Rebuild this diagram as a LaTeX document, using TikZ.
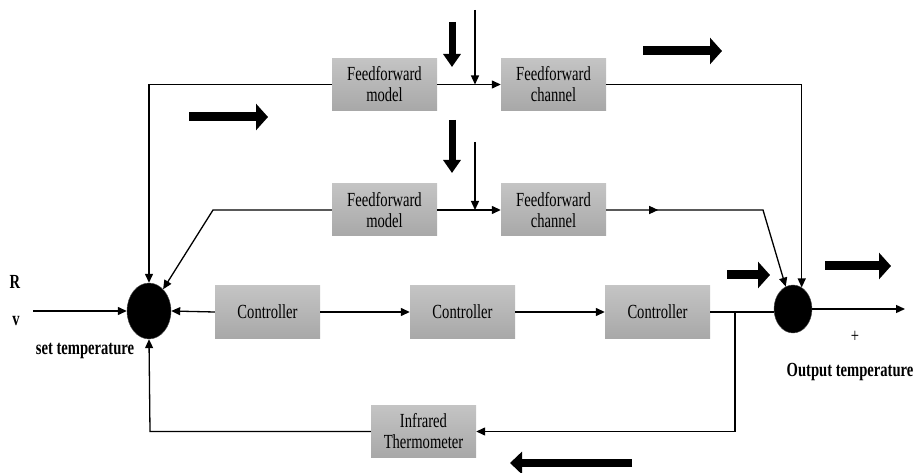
\documentclass[tikz,border=0pt]{standalone}
\usepackage{fontspec}
\setmainfont{Liberation Serif}[FakeStretch=0.73]
\usetikzlibrary{arrows.meta,shapes.geometric,decorations.markings}
\definecolor{boxtop}{HTML}{C4C4C4}
\definecolor{boxbot}{HTML}{A8A8A8}
\begin{document}
\begin{tikzpicture}[x=1pt,y=-1pt,
  every node/.style={font=\fontsize{20}{21}\selectfont},
  blk/.style={rectangle, top color=boxtop, bottom color=boxbot, draw=none,
    minimum width=105pt, minimum height=52pt, inner sep=0pt, align=center},
  sumnode/.style={ellipse, fill=black, draw=black!70, inner sep=0pt},
  conn/.style={line width=1.3pt},
  tip/.style={conn, -{Triangle[length=9pt,width=8pt]}},
  bigarrow/.style={line width=9pt, -{Triangle[length=12pt,width=26pt]}},
  downarrow/.style={line width=7pt, -{Triangle[length=13pt,width=17pt]}},
  lbl/.style={font=\fontsize{20}{21}\selectfont\bfseries, inner sep=0pt}
]
\useasboundingbox (0,0) rectangle (916,473);

% nodes
\node[sumnode, minimum width=44pt, minimum height=56pt] (S1) at (149,311) {};
\node[sumnode, minimum width=38pt, minimum height=48pt] (S2) at (793,309) {};
\node[blk] (c1) at (267.5,312) {Controller};
\node[blk] (c2) at (462.5,312) {Controller};
\node[blk] (c3) at (657.5,312) {Controller};
\node[blk] (fm1) at (384.5,84.5) {Feedforward\\model};
\node[blk] (fc1) at (553.5,84.5) {Feedforward\\channel};
\node[blk] (fm2) at (384.5,210) {Feedforward\\model};
\node[blk] (fc2) at (553.5,210) {Feedforward\\channel};
\node[blk] (ir) at (423.5,431.5) {Infrared\\Thermometer};

\coordinate (in) at (33,311);
\coordinate (out) at (905,309);
\coordinate (d1) at (475,10);
\coordinate (d2) at (475,142);
\coordinate (br) at (735,312);
\coordinate (fbl) at (150,431.5);
\coordinate (k2) at (213,210);
\coordinate (k3) at (763,210);

% labels
\node[lbl] (R) at (15,282) {R};
\node[lbl] (v) at (16,321) {v};
\node[lbl] (st) at (85,351) {set temperature};
\node[inner sep=0pt] (plus) at (855,337) {+};
\node[lbl] (ot) at (850,372) {Output temperature};

% connectors
\draw[tip] (in) -- (S1.west);
\draw[tip] (c1.west) -- (S1.east);
\draw[tip] (c1.east) -- (c2.west);
\draw[tip] (c2.east) -- (c3.west);
\draw[conn] (c3.east) -- (S2.west |- c3.east);
\draw[tip] (S2.east) -- (out);
\draw[tip] (br) |- (ir.east);
\draw[tip] (ir.west) -- (fbl) -- (S1.south);

\draw[tip] (fm1.west) -| (S1.north);
\draw[tip] (fm1.east) -- (fc1.west);
\draw[tip] (d1) -- (d1 |- fm1.east);
\draw[tip] (fc1.east) -| (S2.68);

\draw[tip] (fm2.west) -- (k2) -- (S1.57);
\draw[tip] (fm2.east) -- (fc2.west);
\draw[tip] (d2) -- (d2 |- fm2.east);
\draw[tip, postaction={decorate}, decoration={markings,
   mark=at position 52pt with {\arrow{Triangle[length=9pt,width=8pt]}}}]
   (fc2.east) -- (k3) -- (S2.108);

% big block arrows
\draw[downarrow] (452,22) -- (452,67);
\draw[downarrow] (452,120) -- (452,173);
\draw[bigarrow] (189,117) -- (268,117);
\draw[bigarrow] (643,51) -- (722,51);
\draw[bigarrow] (727,275) -- (770,275);
\draw[bigarrow] (825,266) -- (891,266);
\draw[line width=8pt, -{Triangle[length=12pt,width=22pt]}] (632,463) -- (510,463);
\end{tikzpicture}
\end{document}
